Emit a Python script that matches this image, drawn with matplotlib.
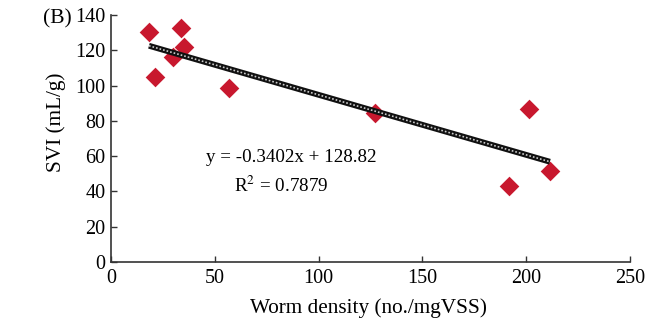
import matplotlib
matplotlib.use("Agg")
import matplotlib.pyplot as plt
import numpy as np

worm_density = [18.3, 21.2, 29.7, 33.6, 35.0, 57.0, 127.2, 191.9, 201.2, 211.5]
svi = [130.4, 104.9, 116.4, 132.8, 122.0, 98.5, 84.3, 43.3, 86.6, 51.8]
slope = -0.3402
intercept = 128.82
r2 = 0.7879
x_ticks = [0, 50, 100, 150, 200, 250]
y_ticks = [0, 20, 40, 60, 80, 100, 120, 140]

plt.rcParams['font.family'] = ['Liberation Serif', 'DejaVu Serif']

fig = plt.figure(figsize=(6.54, 3.2), dpi=100)
ax = fig.add_axes([0.1697, 0.181, 0.7933, 0.772])

ax.scatter(worm_density, svi, marker='D', s=100, color='#C8182E', zorder=3, linewidths=0)

xf = np.array([min(worm_density), max(worm_density)])
yf = slope * xf + intercept
ax.plot(xf, yf, color='#111111', lw=4.2, solid_capstyle='butt', zorder=4)
ax.plot(xf, yf, color='#cccccc', lw=1.2, ls=(0, (1, 1.2)), zorder=5)

ax.text(0.347, 0.425, "y = -0.3402x + 128.82", transform=ax.transAxes,
        ha='center', va='center', fontsize=13.7)
ax.text(0.328, 0.31, r"R$^2$ = 0.7879", transform=ax.transAxes,
        ha='center', va='center', fontsize=13.7, math_fontfamily='stix')

ax.set_xlim(0, 250)
ax.set_ylim(0, 140)
ax.set_xticks(x_ticks)
ax.set_yticks(y_ticks)
ax.tick_params(direction='in', length=4, labelsize=14.5, width=1, color='#333333')
ax.tick_params(axis='x', pad=5)
ax.tick_params(axis='y', pad=4)
for s in ['top', 'right']:
    ax.spines[s].set_visible(False)
for s in ['left', 'bottom']:
    ax.spines[s].set_color('#333333')
    ax.spines[s].set_linewidth(1.2)

ax.set_xlabel("Worm density (no./mgVSS)", fontsize=15.3)
ax.set_ylabel("SVI (mL/g)", fontsize=15.3)
ax.xaxis.set_label_coords(0.497, -0.145)
ax.yaxis.set_label_coords(-0.086, 0.567)
fig.text(0.066, 0.942, "(B)", fontsize=15.5, va='center', ha='left')

fig.savefig("out.png", dpi=100)
